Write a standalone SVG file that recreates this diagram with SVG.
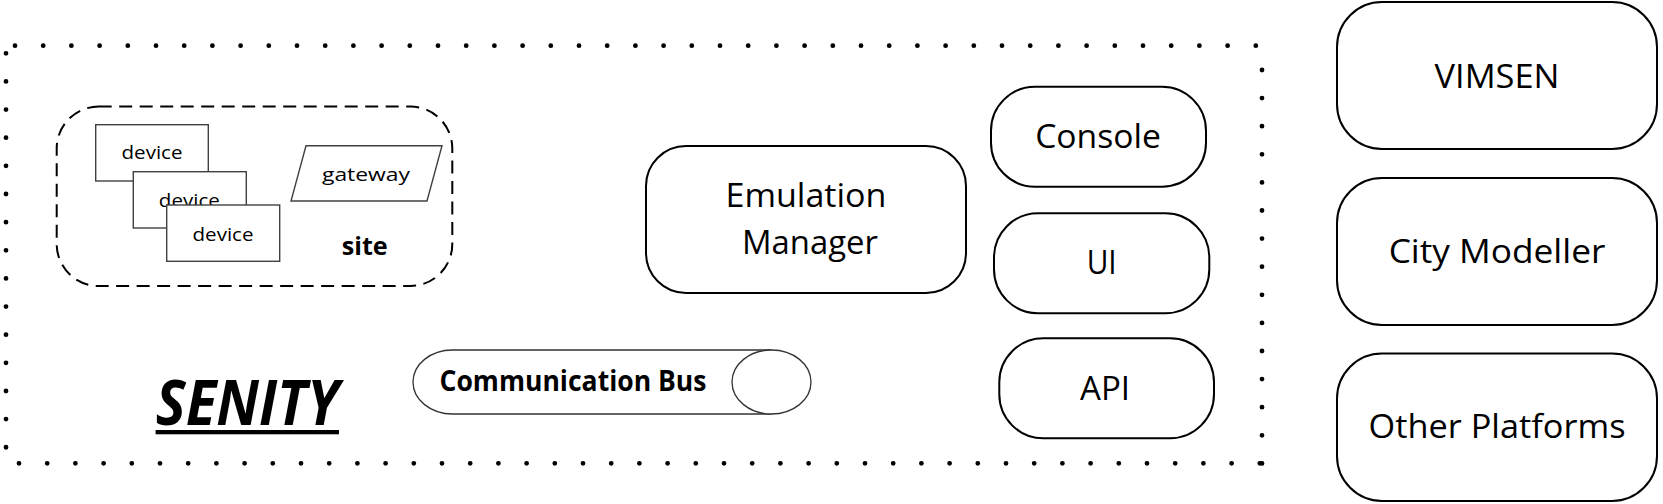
<svg xmlns="http://www.w3.org/2000/svg" width="1663" height="504" viewBox="0 0 1663 504">
<style>
  .box { fill: #fff; stroke: #000; stroke-width: 2; }
  .dev { fill: #fff; stroke: #404040; stroke-width: 1.4; }
  .dots { fill: none; stroke: #000; stroke-width: 4.8; stroke-linecap: round; }
  .lbl { font-family: "Open Sans", "Liberation Sans", sans-serif; font-size: 33px; fill: #000; text-anchor: middle; }
  .small { font-family: "Open Sans", "Liberation Sans", sans-serif; font-size: 19px; fill: #000; text-anchor: middle; }
  .bold { font-family: "Open Sans", "Liberation Sans", sans-serif; font-weight: bold; fill: #000; text-anchor: middle; }
</style>
<rect width="1663" height="504" fill="#fff"/>

<g id="senity-boundary">
  <path class="dots" d="M15,45.7 H1262" stroke-dasharray="0 28.2"/>
  <path class="dots" d="M1262,70 V465" stroke-dasharray="0 28.1"/>
  <path class="dots" d="M19,463.3 H1262" stroke-dasharray="0 28.2"/>
  <path class="dots" d="M6,53.3 V449" stroke-dasharray="0 28.14"/>
  <text class="bold" x="247.3" y="425" font-size="63" font-style="italic" textLength="183" lengthAdjust="spacingAndGlyphs">SENITY</text>
  <rect x="155.6" y="430" width="183.4" height="4.3" fill="#000"/>
</g>

<g id="site">
  <rect x="56.7" y="106.5" width="395.6" height="179.5" rx="42" ry="42" fill="none" stroke="#000" stroke-width="2" stroke-dasharray="13 7.5"/>
  <text class="bold" x="364.7" y="255" font-size="25" textLength="46" lengthAdjust="spacingAndGlyphs">site</text>
</g>

<g id="device-1">
  <rect class="dev" x="95.7" y="124.7" width="112.6" height="56.3"/>
  <text class="small" x="152" y="159.3" textLength="61" lengthAdjust="spacingAndGlyphs">device</text>
</g>
<g id="device-2">
  <rect class="dev" x="133.3" y="171.7" width="113" height="56.3"/>
  <text class="small" x="189.3" y="206.7" textLength="61" lengthAdjust="spacingAndGlyphs">device</text>
</g>
<g id="device-3">
  <rect class="dev" x="166.7" y="205" width="113" height="56.3"/>
  <text class="small" x="223" y="240.7" textLength="61" lengthAdjust="spacingAndGlyphs">device</text>
</g>

<g id="gateway">
  <polygon points="306,145.7 442,145.7 427,201 291,201" fill="#fff" stroke="#404040" stroke-width="1.4"/>
  <text class="small" x="366" y="181" font-size="21" textLength="88" lengthAdjust="spacingAndGlyphs">gateway</text>
</g>

<g id="communication-bus">
  <path d="M452.5,350 H771.5 V414 H452.5 A39.5,32 0 0 1 452.5,350 Z" fill="#fff" stroke="none"/>
  <path d="M452.5,350 H771.5 M771.5,414 H452.5 A39.5,32 0 0 1 452.5,350" fill="none" stroke="#333" stroke-width="1.3"/>
  <ellipse cx="771.5" cy="382" rx="39.5" ry="32" fill="#fff" stroke="#333" stroke-width="1.3"/>
  <text class="bold" x="573" y="390.7" font-size="29" textLength="267" lengthAdjust="spacingAndGlyphs">Communication Bus</text>
</g>

<g id="emulation-manager">
  <rect class="box" x="646" y="146" width="320" height="147" rx="40" ry="40"/>
  <text class="lbl" x="806" y="207" font-size="33" textLength="161" lengthAdjust="spacingAndGlyphs">Emulation</text>
  <text class="lbl" x="810" y="254" font-size="33" textLength="136" lengthAdjust="spacingAndGlyphs">Manager</text>
</g>

<g id="console">
  <rect class="box" x="991" y="86.7" width="215" height="100" rx="44" ry="44"/>
  <text class="lbl" x="1098" y="148.3" textLength="125.7" lengthAdjust="spacingAndGlyphs">Console</text>
</g>
<g id="ui">
  <rect class="box" x="994" y="213.3" width="215.3" height="100" rx="44" ry="44"/>
  <text class="lbl" x="1101.7" y="274.3" textLength="30" lengthAdjust="spacingAndGlyphs">UI</text>
</g>
<g id="api">
  <rect class="box" x="999.3" y="338.3" width="214.7" height="100" rx="44" ry="44"/>
  <text class="lbl" x="1105" y="400" textLength="50" lengthAdjust="spacingAndGlyphs">API</text>
</g>

<g id="vimsen">
  <rect class="box" x="1337" y="2" width="320" height="147" rx="45" ry="45"/>
  <text class="lbl" x="1497" y="88.3" textLength="125" lengthAdjust="spacingAndGlyphs">VIMSEN</text>
</g>
<g id="city-modeller">
  <rect class="box" x="1337" y="178" width="320" height="147" rx="45" ry="45"/>
  <text class="lbl" x="1497" y="263.3" textLength="216.7" lengthAdjust="spacingAndGlyphs">City Modeller</text>
</g>
<g id="other-platforms">
  <rect class="box" x="1337" y="353.5" width="320" height="147.5" rx="45" ry="45"/>
  <text class="lbl" x="1497" y="438.3" textLength="257" lengthAdjust="spacingAndGlyphs">Other Platforms</text>
</g>

<g id="connectors"></g>
</svg>
